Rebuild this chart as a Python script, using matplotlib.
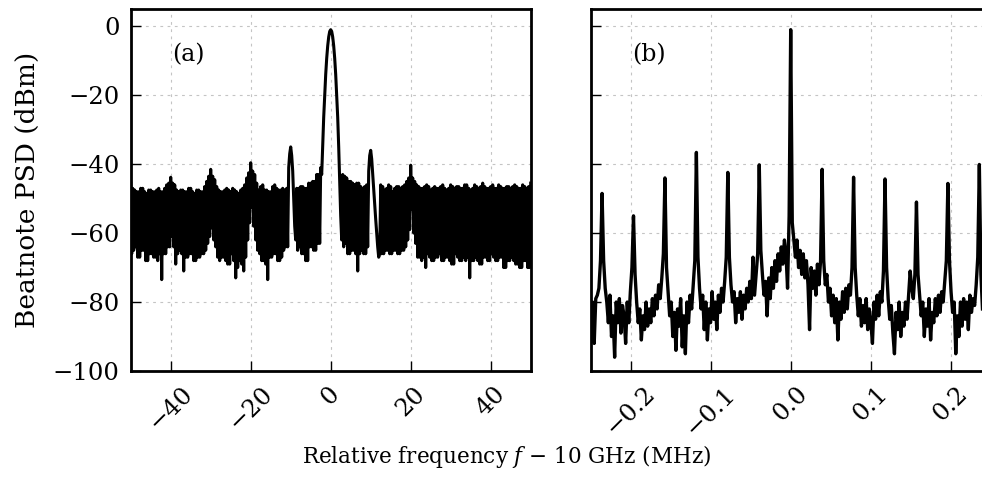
import numpy as np
import matplotlib
matplotlib.use("Agg")
import matplotlib.pyplot as plt

plt.rcParams['font.family'] = ['DejaVu Serif']
plt.rcParams['mathtext.fontset'] = 'dejavuserif'

# ---------------- data ----------------
# Panel (a): wide span, -50 .. 50 MHz, trace sampled every 0.25 MHz.
# a_upper: samples at -50, -49.5, ... (noise maxima in the floor)
# a_lower: samples at -49.75, -49.25, ... (noise minima in the floor)
a_span = (-50.0, 50.0)
a_upper = [
    -45.5, -47, -47.5, -48, -48, -47, -47, -48, -48.5, -47.5,        # -50 .. -45.5
    -47.5, -48, -48, -47.5, -47, -48, -48, -47, -46, -45.5,          # -45 .. -40.5
    -43.8, -45.5, -46, -47.5, -48, -47.5, -47.5, -48, -48, -47,      # -40 .. -35.5
    -47, -48, -48.5, -47.5, -47.5, -48, -48, -46.5, -45, -43.5,      # -35 .. -30.5
    -41.5, -43.5, -44.5, -46.5, -47.5, -48, -48, -47.5, -47, -47.5,  # -30 .. -25.5
    -48, -47, -47.5, -48, -48.5, -47.5, -47, -46, -44, -42.5,        # -25 .. -20.5
    -39.6, -42, -43, -45.5, -47.5, -46.5, -46, -47.5, -47.5, -48,    # -20 .. -15.5
    -48, -46.5, -46, -47, -47.5, -47.5, -47, -47.5, -47, -41,        # -15 .. -10.5
    -35, -42, -58, -47, -47, -46.5, -46.5, -47, -47, -45.5,          # -10 .. -5.5
    -45.5, -45, -45, -43, -43, -41, -35, -20, -9.3, -3.1,            # -5 .. -0.5
    -1.0, -3.1, -9.3, -20, -35, -55, -43, -43.5, -44, -45,           # 0 .. 4.5
    -45, -45.5, -46, -45.5, -45.5, -46.5, -47, -46.5, -46, -42,      # 5 .. 9.5
    -36, -43, -52, -60, -67, -46, -46.5, -47.5, -47, -46,            # 10 .. 14.5
    -46.5, -48, -47, -46.5, -46.5, -47, -46.5, -46, -45, -44,        # 15 .. 19.5
    -40.3, -44, -45, -46, -46.5, -47, -47, -46.5, -46, -46.5,        # 20 .. 24.5
    -47.5, -47, -46.5, -47, -47, -46.5, -46, -47, -47.5, -47,        # 25 .. 29.5
    -46, -46.5, -47, -46.5, -46.5, -47, -47, -46, -46, -47,          # 30 .. 34.5
    -47.5, -47, -46, -46.5, -47, -46.5, -45.5, -46.5, -47, -47,      # 35 .. 39.5
    -46.5, -46, -47, -47, -46, -46.5, -47, -47, -46.5, -46.5,        # 40 .. 44.5
    -47, -46.5, -46, -46.5, -47, -47, -46, -46.5, -47, -46.5,        # 45 .. 49.5
    -45.5,                                                           # 50
]
a_lower = [
    -66, -65, -64, -67, -67, -65, -65, -68, -68, -66,                # -49.75 .. -45.25
    -66, -67, -67, -68, -66, -73.5, -66, -66, -64, -64,              # -44.75 .. -40.25
    -61, -64, -69, -66, -65, -66, -71, -67, -67, -66,                # -39.75 .. -35.25
    -66, -68, -68, -67, -67, -66, -66, -65, -63, -61,                # -34.75 .. -30.25
    -58.5, -62, -64, -67, -68, -67, -67, -68, -69, -69,              # -29.75 .. -25.25
    -66, -68, -73, -70, -68, -69, -71, -67, -62, -57,                # -24.75 .. -20.25
    -52.5, -58, -62, -65, -66, -68, -68, -69, -73.5, -67,            # -19.75 .. -15.25
    -67, -66, -66, -68, -68, -67, -65, -64, -64, -37,                # -14.75 .. -10.25
    -37.5, -50, -62, -65, -64, -66, -66, -68, -68, -64,              # -9.75 .. -5.25
    -64, -65, -65, -63, -63, -43, -26.4, -14, -5.7, -1.5,            # -4.75 .. -0.25
    -1.5, -5.7, -14, -26.4, -45, -62, -64, -63, -66, -66,            # 0.25 .. 4.75
    -65, -65, -66, -71, -66, -65, -66, -66, -64, -37.5,              # 5.25 .. 9.75
    -38.5, -47, -56, -64, -66, -66, -66, -65, -65, -66,              # 10.25 .. 14.75
    -66, -65, -65, -66, -66, -65, -65, -64, -62, -59,                # 15.25 .. 19.75
    -53, -60, -63, -67, -67, -68, -67, -70, -66, -67,                # 20.25 .. 24.75
    -68, -68, -67, -67, -66, -68, -68, -67, -67, -68,                # 25.25 .. 29.75
    -69, -69, -66, -67, -68, -68, -67, -68, -67, -73,                # 30.25 .. 34.75
    -68, -68, -67, -68, -69, -69, -67, -67, -68, -68,                # 35.25 .. 39.75
    -66, -67, -68, -68, -67, -67, -70, -70, -68, -68,                # 40.25 .. 44.75
    -67, -68, -69, -69, -70, -70, -68, -68, -70, -70,                # 45.25 .. 49.75
]

# Panel (b): zoom around the carrier, sampled every 1.965 kHz
b_step = 0.001965   # MHz
b_first = -127      # index of first sample relative to carrier
b_psd = [
    -88, -80, -92, -79, -78, -76, -68, -48.5, -68, -76,              # 0-9
    -80, -86, -78, -90, -84, -96, -80, -86, -79, -89,                # 10-19
    -81, -84, -92, -80, -86, -77, -70, -55, -72, -80,                # 20-29
    -86, -82, -91, -84, -88, -80, -87, -82, -86, -79,                # 30-39
    -84, -78, -82, -75, -79, -73, -66, -44, -70, -77,                # 40-49
    -84, -80, -90, -83, -94, -82, -87, -79, -93, -84,                # 50-59
    -95, -80, -86, -78, -82, -75, -68, -36.6, -67, -76,              # 60-69
    -82, -78, -88, -80, -91, -82, -86, -77, -85, -80,                # 70-79
    -88, -78, -83, -76, -80, -74, -67, -42.4, -67, -75,              # 80-89
    -80, -77, -86, -79, -83, -77, -85, -78, -82, -76,                # 90-99
    -80, -74, -79, -67, -78, -72, -66, -40.2, -65, -72,              # 100-109
    -78, -74, -84, -73, -79, -70, -76, -68, -74, -66,                # 110-119
    -71, -64, -69, -62, -66, -76, -55, -1.0, -57, -62,               # 120-129
    -67, -62, -70, -65, -72, -66, -73, -68, -75, -88,                # 130-139
    -70, -76, -71, -78, -69, -75, -68, -41.5, -68, -75,              # 140-149
    -72, -80, -76, -84, -78, -86, -79, -91, -80, -85,                # 150-159
    -77, -83, -76, -82, -75, -78, -70, -43.8, -70, -78,              # 160-169
    -84, -79, -87, -81, -86, -79, -88, -82, -86, -92,                # 170-179
    -80, -85, -78, -84, -77, -80, -71, -44.3, -70, -79,              # 180-189
    -85, -81, -89, -95, -83, -88, -80, -90, -83, -87,                # 190-199
    -80, -85, -78, -71, -76, -79, -72, -51, -72, -78,                # 200-209
    -84, -80, -90, -82, -87, -79, -91, -83, -86, -79,                # 210-219
    -84, -78, -83, -77, -80, -74, -68, -45.6, -68, -77,              # 220-229
    -83, -80, -95, -84, -90, -80, -87, -79, -85, -80,                # 230-239
    -88, -78, -83, -79, -81, -75, -67, -40.1, -72, -82,              # 240-249
]

a_xticks = [-40, -20, 0, 20, 40]
b_xticks = [-0.2, -0.1, 0.0, 0.1, 0.2]
yticks = [0, -20, -40, -60, -80, -100]
panel_labels = ["(a)", "(b)"]
ylabel = "Beatnote PSD (dBm)"
xlabel = r"Relative frequency $f$ − 10 GHz (MHz)"

# ---------------- figure ----------------
W, H = 982, 494
fig = plt.figure(figsize=(W / 100, H / 100), dpi=100)

def px_rect(x0, y0, x1, y1):
    return [x0 / W, 1 - y1 / H, (x1 - x0) / W, (y1 - y0) / H]

ax_a = fig.add_axes(px_rect(130.7, 9, 530.7, 371))
ax_b = fig.add_axes(px_rect(590.7, 9, 990.7, 371))

# panel (a) trace: interleave the two sample sets in frequency order
a_bin = (a_span[1] - a_span[0]) / (len(a_upper) - 1)
f_up = a_span[0] + a_bin * np.arange(len(a_upper))
f_lo = a_span[0] + a_bin * np.arange(len(a_lower)) + a_bin / 2
a_freq = np.concatenate([np.column_stack([f_up[:-1], f_lo]).ravel(), f_up[-1:]])
a_trace = np.concatenate([np.column_stack([a_upper[:-1], a_lower]).ravel(), a_upper[-1:]])
b_freq = (np.arange(len(b_psd)) + b_first) * b_step

ax_a.plot(a_freq, a_trace, color='black', lw=2.2)
ax_b.plot(b_freq, b_psd, color='black', lw=2.4)

ax_a.set_xlim(-50, 50)
ax_b.set_xlim(-0.25, 0.25)
for ax in (ax_a, ax_b):
    ax.set_ylim(-100, 5)
    ax.set_yticks(yticks)
    ax.grid(True, color='#c4c4c4', lw=0.8, linestyle=(0, (2.5, 4)))
    ax.set_axisbelow(True)
    ax.tick_params(direction='in', length=7.5, width=1.0, labelsize=17.5, pad=8,
                   top=False, right=False)
    for s in ax.spines.values():
        s.set_linewidth(2.0)

ax_a.set_xticks(a_xticks)
ax_a.set_xticklabels([f"{v:d}".replace('-', '−') for v in a_xticks], rotation=45)
ax_b.set_xticks(b_xticks)
ax_b.set_xticklabels([f"{v:.1f}".replace('-', '−') for v in b_xticks], rotation=45)
ax_b.tick_params(labelleft=False)

ax_a.text(-39.7, -8.4, panel_labels[0], fontsize=17, ha='left', va='center')
ax_b.text(-0.198, -8.4, panel_labels[1], fontsize=17, ha='left', va='center')

fig.text(27 / W, 1 - 190 / H, ylabel, rotation=90, ha='center', va='center', fontsize=19)
fig.text(507 / W, 1 - 456 / H, xlabel, ha='center', va='center', fontsize=15.5)

fig.savefig("out.png", dpi=100)
